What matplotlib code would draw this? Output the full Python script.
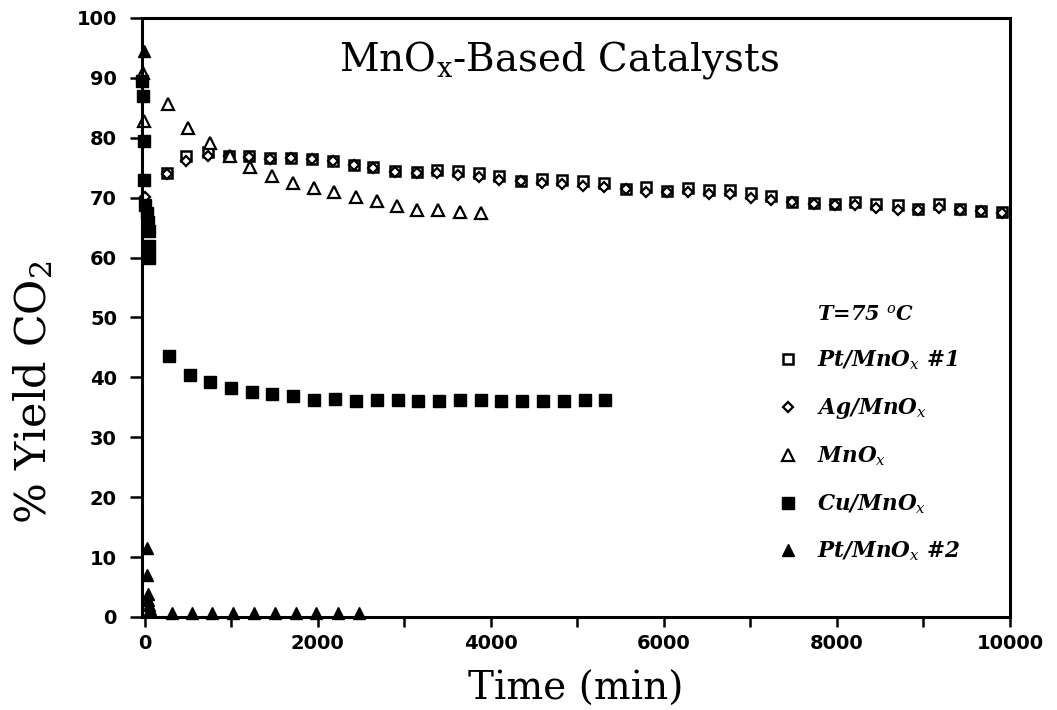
import matplotlib
matplotlib.use("Agg")
from matplotlib import pyplot as plt
import matplotlib.ticker as mticker

plt.rcParams["mathtext.fontset"] = "dejavuserif"

# ----------------------------------------------------------------------
# DATA
# ----------------------------------------------------------------------

# Pt/MnOx #1 (open squares)
pt1_time = [263, 478, 729, 977, 1208, 1449, 1688, 1937, 2179, 2415, 2645,
            2894, 3143, 3381, 3622, 3860, 4101, 4350, 4588, 4829, 5071,
            5309, 5558, 5800, 6037, 6279, 6517, 6767, 7008, 7244, 7485,
            7735, 7979, 8215, 8452, 8701, 8942, 9182, 9423, 9660, 9909]
pt1_yield = [74.1, 76.9, 77.7, 77.0, 76.9, 76.6, 76.7, 76.5, 76.2, 75.5, 75.1,
             74.4, 74.3, 74.6, 74.4, 74.1, 73.7, 72.8, 73.1, 73.0, 72.7,
             72.4, 71.5, 71.7, 71.1, 71.6, 71.3, 71.3, 70.7, 70.3, 69.3,
             69.1, 68.9, 69.2, 68.9, 68.7, 68.1, 68.9, 68.1, 67.8, 67.6]

# Ag/MnOx (open diamonds)
ag_time = [0] + pt1_time
ag_yield = [70.1, 74.0, 76.2, 77.0, 76.9, 76.8, 76.5, 76.6, 76.4, 76.1, 75.4,
            75.0, 74.3, 74.2, 74.1, 73.8, 73.5, 73.0, 72.7, 72.4, 72.3,
            72.0, 71.7, 71.4, 71.0, 71.0, 70.9, 70.6, 70.6, 70.0, 69.6,
            69.2, 69.0, 68.8, 68.8, 68.2, 68.0, 68.0, 68.2, 68.0, 67.7, 67.5]

# MnOx (open triangles)
mnox_time = [-20, -10, 274, 498, 751, 985, 1213, 1472, 1719, 1959, 2188,
             2445, 2685, 2922, 3151, 3393, 3650, 3887]
mnox_yield = [90.8, 82.8, 85.6, 81.6, 79.1, 77.0, 75.1, 73.7, 72.5, 71.6, 70.9,
              70.1, 69.5, 68.6, 68.0, 68.0, 67.6, 67.4]

# Cu/MnOx (filled squares)
cu_time = [-30, -20, -10, -5, 10, 25, 40, 55, 55, 55, 286, 523, 759, 999,
           1236, 1473, 1714, 1963, 2206, 2444, 2686, 2926, 3165, 3403, 3642,
           3884, 4124, 4363, 4601, 4843, 5085, 5324]
cu_yield = [89.5, 87.0, 79.5, 73.0, 68.8, 67.5, 66.0, 64.5, 62.0, 60.0, 43.5,
            40.4, 39.2, 38.2, 37.6, 37.3, 36.9, 36.2, 36.4, 36.1, 36.2, 36.2,
            36.1, 36.1, 36.2, 36.2, 36.1, 36.1, 36.1, 36.1, 36.2, 36.3]

# Pt/MnOx #2 (filled triangles)
pt2_time = [-10, 30, 30, 35, 45, 55, 65, 315, 544, 781, 1023, 1265, 1503,
            1745, 1983, 2232, 2474]
pt2_yield = [94.5, 11.5, 7.0, 3.8, 2.8, 2.0, 1.3, 0.7, 0.7, 0.7, 0.7, 0.7,
             0.7, 0.7, 0.7, 0.7, 0.7]

x_ticks = [0, 2000, 4000, 6000, 8000, 10000]
y_ticks = [0, 10, 20, 30, 40, 50, 60, 70, 80, 90, 100]

SERIES = [
    (pt1_time, pt1_yield, "Pt/MnO$_x$ #1",
     dict(marker="s", ms=7, mfc="white", mec="black", mew=1.8)),
    (ag_time, ag_yield, "Ag/MnO$_x$",
     dict(marker="D", ms=5.5, mfc="white", mec="black", mew=1.6)),
    (mnox_time, mnox_yield, "MnO$_x$",
     dict(marker="^", ms=8, mfc="white", mec="black", mew=1.6)),
    (cu_time, cu_yield, "Cu/MnO$_x$",
     dict(marker="s", ms=8, mfc="black", mec="black", mew=1.0)),
    (pt2_time, pt2_yield, "Pt/MnO$_x$ #2",
     dict(marker="^", ms=8.5, mfc="black", mec="black", mew=1.0)),
]

SERIF = "DejaVu Serif"

# ----------------------------------------------------------------------
# PLOT
# ----------------------------------------------------------------------

fig = plt.figure(figsize=(10.57, 7.10), dpi=100)
ax = fig.add_axes([0.1343, 0.131, 0.8212, 0.8437])

for t, y, label, style in SERIES:
    ax.plot(t, y, linestyle="none", label=label, clip_on=False, **style)

ax.set_xlim(-30, 10000)
ax.set_ylim(0, 100)
ax.set_xticks(x_ticks)
ax.set_yticks(y_ticks)
ax.xaxis.set_minor_locator(mticker.MultipleLocator(1000))

for s in ax.spines.values():
    s.set_linewidth(2.2)

ax.tick_params(axis="both", which="both", direction="out", width=1.8,
               top=False, right=False)
ax.tick_params(axis="x", which="both", length=7, pad=5)
ax.tick_params(axis="y", length=9, pad=9)
for lab in ax.get_xticklabels() + ax.get_yticklabels():
    lab.set_fontsize(14)
    lab.set_fontweight("bold")

ax.set_xlabel("Time (min)", fontsize=28, family=SERIF, labelpad=13)
ax.set_ylabel("% Yield CO$_\\mathregular{2}$", fontsize=31, family=SERIF)
ax.yaxis.set_label_coords(-0.1, 0.375)

ax.text(0.48, 0.93, "MnO$_\\mathregular{x}$-Based Catalysts",
        transform=ax.transAxes, ha="center", va="center",
        fontsize=28, family=SERIF)

ax.text(0.778, 0.505, "T=75 $^o$C", transform=ax.transAxes,
        ha="left", va="center", fontsize=15, family=SERIF,
        style="italic", fontweight="bold")

leg = ax.legend(loc="upper left", bbox_to_anchor=(0.71, 0.48), frameon=False,
                handlelength=1.0, handletextpad=0.85, labelspacing=1.1,
                prop=dict(family=SERIF, style="italic",
                          weight="bold", size=15.5))

fig.savefig("out.png", dpi=100)
